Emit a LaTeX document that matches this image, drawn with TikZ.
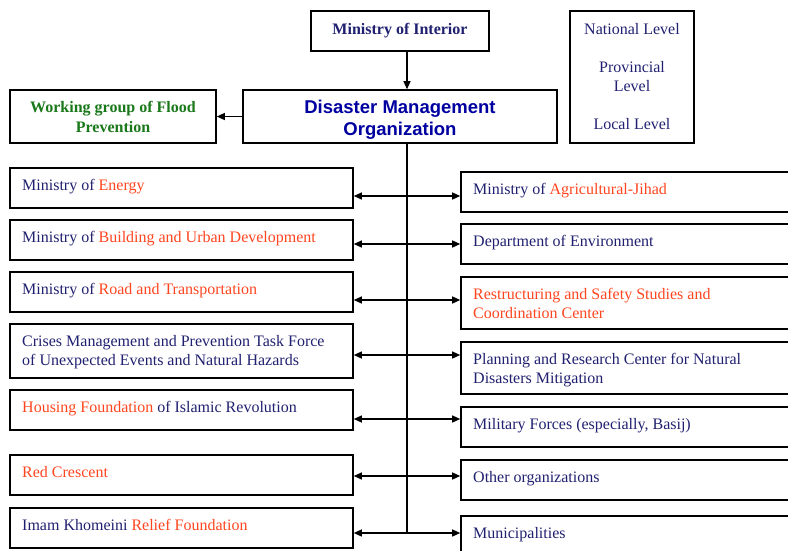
\documentclass[tikz,border=0pt]{standalone}
\usepackage{fontspec}
\setmainfont{Liberation Serif}
\newfontfamily\arialfont{Liberation Sans}
\usetikzlibrary{arrows.meta}
\definecolor{navy}{RGB}{32,32,112}
\definecolor{hot}{RGB}{255,69,31}
\definecolor{leaf}{RGB}{25,120,25}
\definecolor{royal}{RGB}{0,0,160}
\newcommand{\hl}[1]{\textcolor{hot}{#1}}
\tikzset{
  box/.style={draw,line width=1.6pt,inner sep=0pt},
  txt/.style={anchor=north west,inner sep=0pt,align=left,text=navy,font=\fontsize{16}{19}\selectfont},
  link/.style={line width=1.3pt,-{Triangle[length=8pt,width=7pt]}},
  twoway/.style={line width=1.3pt,{Triangle[length=8pt,width=7pt]}-{Triangle[length=8pt,width=7pt]}}
}

\begin{document}
\begin{tikzpicture}[x=1pt,y=-1pt]
    \useasboundingbox (0,0) rectangle (788,550);
    \clip (0,0) rectangle (788,550);

    % top of the chart
    \node (MI) at (400,31) [box,minimum width=178,minimum height=40,text=navy,font=\bfseries\fontsize{16}{19}\selectfont] {Ministry of Interior};
    \node (Lev) at (632,77) [box,minimum width=124,minimum height=132,align=center,text=navy,font=\fontsize{16}{19}\selectfont] {National Level\\[19pt]Provincial\\Level\\[19pt]Local Level};
    \node (DMO) at (400,116.5) [box,minimum width=314,minimum height=53] {};
    \node (DMOt) at (400,120) [align=center,inner sep=0pt,text=royal,font=\arialfont\bfseries\fontsize{18.5}{22}\selectfont] {Disaster Management\\Organization};
    \node (WG) at (113,116.5) [box,minimum width=206,minimum height=53,align=center,text=leaf,font=\bfseries\fontsize{16}{20}\selectfont] {Working group of Flood\\Prevention};

    % left column
    \node (L1) at (181.5,188) [box,minimum width=343,minimum height=40] {};
    \node (L1t) at (22,179) [txt] {Ministry of \hl{Energy}};
    \node (L2) at (181.5,240) [box,minimum width=343,minimum height=40] {};
    \node (L2t) at (22,231) [txt] {Ministry of \hl{Building and Urban Development}};
    \node (L3) at (181.5,292) [box,minimum width=343,minimum height=40] {};
    \node (L3t) at (22,283) [txt] {Ministry of \hl{Road and Transportation}};
    \node (L4) at (181.5,351) [box,minimum width=343,minimum height=54] {};
    \node (L4t) at (22,335) [txt] {Crises Management and Prevention Task Force\\of Unexpected Events and Natural Hazards};
    \node (L5) at (181.5,410) [box,minimum width=343,minimum height=40] {};
    \node (L5t) at (22,401) [txt] {\hl{Housing Foundation} of Islamic Revolution};
    \node (L6) at (181.5,475) [box,minimum width=343,minimum height=40] {};
    \node (L6t) at (22,466) [txt] {\hl{Red Crescent}};
    \node (L7) at (181.5,528) [box,minimum width=343,minimum height=40] {};
    \node (L7t) at (22,519) [txt] {Imam Khomeini \hl{Relief Foundation}};

    % right column
    \node (R1) at (645.5,192) [box,minimum width=369,minimum height=40] {};
    \node (R1t) at (473,183) [txt] {Ministry of \hl{Agricultural-Jihad}};
    \node (R2) at (645.5,244) [box,minimum width=369,minimum height=40] {};
    \node (R2t) at (473,235) [txt] {Department of Environment};
    \node (R3) at (645.5,303) [box,minimum width=369,minimum height=52] {};
    \node (R3t) at (473,288) [txt,text=hot] {Restructuring and Safety Studies and\\Coordination Center};
    \node (R4) at (645.5,368) [box,minimum width=369,minimum height=52] {};
    \node (R4t) at (473,353) [txt] {Planning and Research Center for Natural\\Disasters Mitigation};
    \node (R5) at (645.5,427) [box,minimum width=369,minimum height=40] {};
    \node (R5t) at (473,418) [txt] {Military Forces (especially, Basij)};
    \node (R6) at (645.5,480) [box,minimum width=369,minimum height=40] {};
    \node (R6t) at (473,471) [txt] {Other organizations};
    \node (R7) at (645.5,536) [box,minimum width=369,minimum height=40] {};
    \node (R7t) at (473,527) [txt] {Municipalities};

    % trunk and row levels
    \coordinate (trunk) at (407,0);
    \coordinate (a1) at (407,196);
    \coordinate (a2) at (407,244);
    \coordinate (a3) at (407,300);
    \coordinate (a4) at (407,355);
    \coordinate (a5) at (407,419);
    \coordinate (a6) at (407,476);
    \coordinate (a7) at (407,533);

    \draw[link] (MI.south -| trunk) -- (DMO.north -| trunk);
    \draw[link] (DMO.west) -- (WG.east);
    \draw[line width=1.3pt] (DMO.south -| trunk) -- (a7);
    \draw[twoway] (L1.east |- a1) -- (R1.west |- a1);
    \draw[twoway] (L2.east |- a2) -- (R2.west |- a2);
    \draw[twoway] (L3.east |- a3) -- (R3.west |- a3);
    \draw[twoway] (L4.east |- a4) -- (R4.west |- a4);
    \draw[twoway] (L5.east |- a5) -- (R5.west |- a5);
    \draw[twoway] (L6.east |- a6) -- (R6.west |- a6);
    \draw[twoway] (L7.east |- a7) -- (R7.west |- a7);
\end{tikzpicture}
\end{document}
